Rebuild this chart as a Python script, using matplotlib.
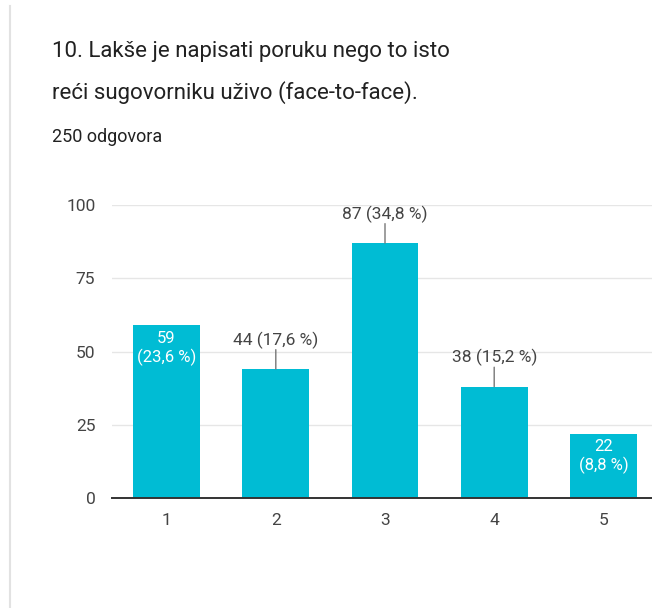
#!/usr/bin/env python3
"""Stupčasti graf odgovora na pitanje 10 (Google Forms stil)."""

import matplotlib
matplotlib.use("Agg")
import matplotlib.pyplot as plt
from matplotlib.lines import Line2D


title_lines = ["10. Lakše je napisati poruku nego to isto",
               "reći sugovorniku uživo (face-to-face)."]
subtitle = "250 odgovora"
categories = ["1", "2", "3", "4", "5"]
counts = [59, 44, 87, 38, 22]
percents = [23.6, 17.6, 34.8, 15.2, 8.8]
label_inside = [True, False, False, False, True]

BAR = "#00BCD4"
TEXT = "#444444"


def fmt_pct(p):
    return f"{p:.1f}".replace(".", ",") + " %"


def main():
    plt.rcParams["font.family"] = ["Roboto", "DejaVu Sans"]

    fig = plt.figure(figsize=(6.52, 6.08), dpi=100)
    fig.patch.set_facecolor("white")

    # lijevi rub kartice
    fig.add_artist(Line2D([0.015, 0.015], [0.0, 0.99], color="#e2e2e2", lw=1.5))

    for line, yc in zip(title_lines, [52, 93]):
        fig.text(52 / 652, 1 - yc / 608, line, fontsize=16, color="#212121",
                 va="center", ha="left")
    fig.text(52 / 652, 1 - 137 / 608, subtitle, fontsize=13, color="#212121",
             va="center", ha="left")

    ax = fig.add_axes([112 / 652, 110 / 608, 546 / 652, 293 / 608])
    x = list(range(1, len(counts) + 1))
    ax.bar(x, counts, width=0.61, color=BAR, zorder=2)

    ax.set_xlim(0.5, 5.5)
    ax.set_ylim(0, 100)
    ax.set_yticks([0, 25, 50, 75, 100])
    ax.set_xticks(x)
    ax.set_xticklabels(categories)
    ax.tick_params(length=0, labelsize=12.5, labelcolor=TEXT)
    ax.tick_params(axis="y", pad=12)
    ax.tick_params(axis="x", pad=11)
    ax.grid(axis="y", color="#e6e6e6", lw=1, zorder=0)
    for s in ["top", "right", "left"]:
        ax.spines[s].set_visible(False)
    ax.spines["bottom"].set_color("#333333")
    ax.spines["bottom"].set_linewidth(1.4)
    ax.spines["bottom"].set_zorder(3)

    for xi, c, p, inside in zip(x, counts, percents, label_inside):
        if inside:
            ax.annotate(f"{c}\n({fmt_pct(p)})", (xi, c), xytext=(0, -4),
                        textcoords="offset points", ha="center", va="top",
                        color="white", fontsize=12, linespacing=1.2)
        else:
            ax.annotate("", (xi, c), xytext=(0, 14), textcoords="offset points",
                        arrowprops=dict(arrowstyle="-", color="#777777", lw=1,
                                        shrinkA=0, shrinkB=0))
            ax.annotate(f"{c} ({fmt_pct(p)})", (xi, c), xytext=(0, 21),
                        textcoords="offset points", ha="center", va="center",
                        color=TEXT, fontsize=12.5)

    fig.savefig("out.png", dpi=100, facecolor="white")
    plt.close(fig)


if __name__ == "__main__":
    main()
